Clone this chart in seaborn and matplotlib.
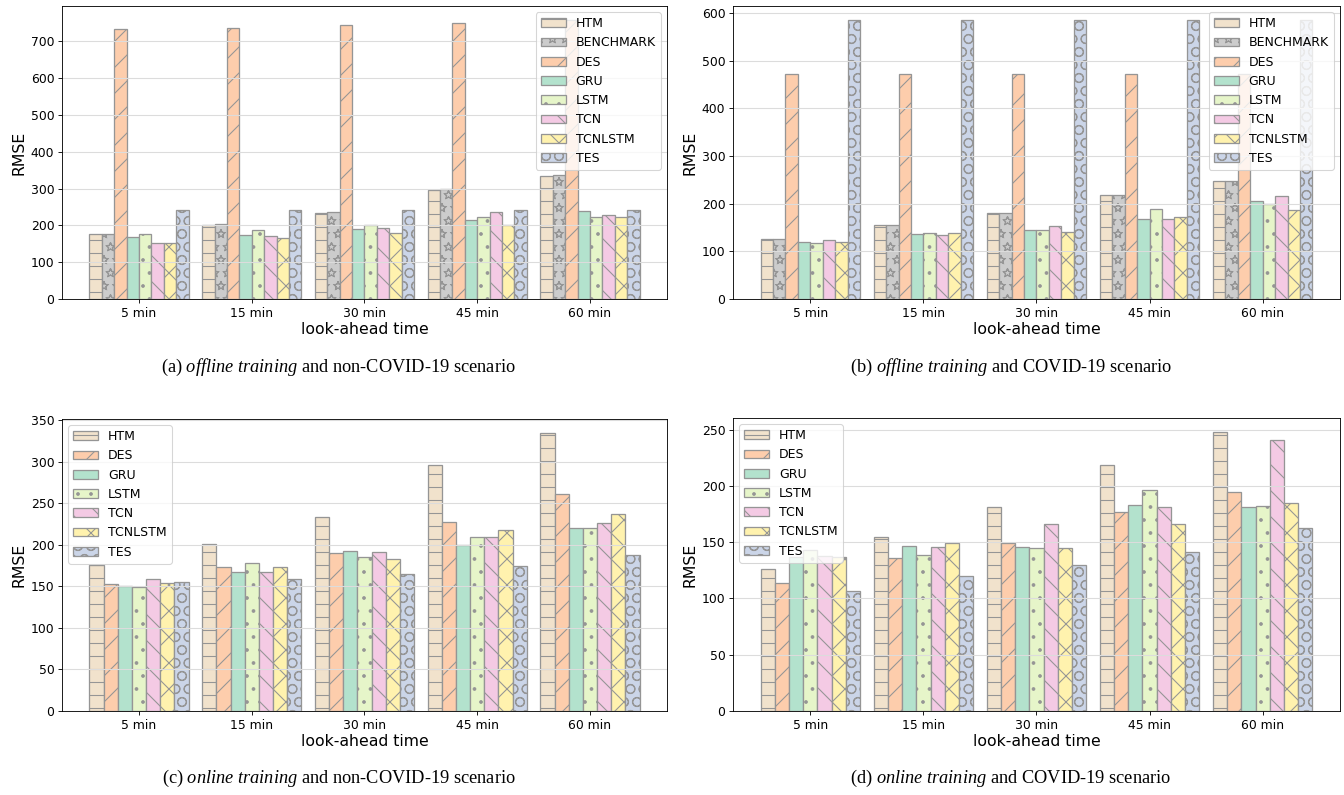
import matplotlib
matplotlib.use("Agg")
import matplotlib.pyplot as plt
import matplotlib.hatch as mhatch
from matplotlib.ticker import MultipleLocator
import seaborn as sns
import pandas as pd

# look-ahead horizons on the x axis
horizons = ["5 min", "15 min", "30 min", "45 min", "60 min"]

# (a) offline training, non-COVID-19
a_htm = [176, 201, 234, 296, 335]
a_benchmark = [176, 204, 237, 298, 337]
a_des = [733, 737, 745, 750, 758]
a_gru = [168, 173, 189, 215, 240]
a_lstm = [176, 188, 201, 222, 223]
a_tcn = [151, 170, 193, 236, 229]
a_tcnlstm = [151, 166, 179, 200, 224]
a_tes = [241, 241, 241, 241, 241]

# (b) offline training, COVID-19
b_htm = [126, 155, 181, 219, 248]
b_benchmark = [126, 155, 181, 219, 247]
b_des = [472, 472, 472, 472, 472]
b_gru = [120, 136, 144, 169, 205]
b_lstm = [117, 139, 145, 189, 200]
b_tcn = [123, 134, 154, 167, 217]
b_tcnlstm = [119, 138, 141, 172, 187]
b_tes = [586, 586, 586, 586, 586]

# (c) online training, non-COVID-19
c_htm = [176, 201, 234, 296, 335]
c_des = [153, 174, 190, 228, 261]
c_gru = [151, 167, 193, 200, 220]
c_lstm = [149, 178, 185, 209, 221]
c_tcn = [159, 167, 191, 210, 226]
c_tcnlstm = [154, 174, 183, 218, 237]
c_tes = [155, 159, 165, 175, 188]

# (d) online training, COVID-19
d_htm = [126, 155, 181, 219, 248]
d_des = [114, 136, 149, 177, 195]
d_gru = [137, 147, 146, 183, 181]
d_lstm = [143, 139, 145, 196, 182]
d_tcn = [138, 146, 166, 181, 241]
d_tcnlstm = [137, 149, 145, 166, 185]
d_tes = [107, 120, 130, 141, 163]

captions = [
    r"(a) $\mathit{offline\ training}$ and non-COVID-19 scenario",
    r"(b) $\mathit{offline\ training}$ and COVID-19 scenario",
    r"(c) $\mathit{online\ training}$ and non-COVID-19 scenario",
    r"(d) $\mathit{online\ training}$ and COVID-19 scenario",
]

# Pastel2 colours and hatches per model
styles = {
    "HTM": ("#f1e2cc", "-"),
    "BENCHMARK": ("#cccccc", "*"),
    "DES": ("#fdcdac", "/"),
    "GRU": ("#b3e2cd", ""),
    "LSTM": ("#e6f5c9", "."),
    "TCN": ("#f4cae4", "\\"),
    "TCNLSTM": ("#fff2ae", "x"),
    "TES": ("#cbd5e8", "O"),
}

panels = [
    {"HTM": a_htm, "BENCHMARK": a_benchmark, "DES": a_des, "GRU": a_gru,
     "LSTM": a_lstm, "TCN": a_tcn, "TCNLSTM": a_tcnlstm, "TES": a_tes},
    {"HTM": b_htm, "BENCHMARK": b_benchmark, "DES": b_des, "GRU": b_gru,
     "LSTM": b_lstm, "TCN": b_tcn, "TCNLSTM": b_tcnlstm, "TES": b_tes},
    {"HTM": c_htm, "DES": c_des, "GRU": c_gru, "LSTM": c_lstm,
     "TCN": c_tcn, "TCNLSTM": c_tcnlstm, "TES": c_tes},
    {"HTM": d_htm, "DES": d_des, "GRU": d_gru, "LSTM": d_lstm,
     "TCN": d_tcn, "TCNLSTM": d_tcnlstm, "TES": d_tes},
]


# star hatch drawn as outlines instead of filled stars
class HollowStars(mhatch.Stars):
    filled = False


mhatch._hatch_types[mhatch._hatch_types.index(mhatch.Stars)] = HollowStars

plt.rcParams["mathtext.fontset"] = "custom"
plt.rcParams["mathtext.rm"] = "Liberation Serif"
plt.rcParams["mathtext.it"] = "Liberation Serif:italic"
plt.rcParams["hatch.linewidth"] = 1.0

DPI = 78
fig = plt.figure(figsize=(1344 / DPI, 795 / DPI), dpi=DPI)

boxes = [
    [0.0461, 0.6239, 0.4502, 0.3686],
    [0.5454, 0.6239, 0.4516, 0.3686],
    [0.0461, 0.1057, 0.4502, 0.3673],
    [0.5454, 0.1057, 0.4516, 0.3686],
]
legend_loc = ["upper right", "upper right", "upper left", "upper left"]
ystep = [100, 100, 50, 50]
cap_pos = [(0.252, 0.538), (0.752, 0.538), (0.252, 0.021), (0.752, 0.021)]

for i, data in enumerate(panels):
    models = list(data.keys())
    df = pd.DataFrame([(h, m, v) for m in models for h, v in zip(horizons, data[m])],
                      columns=["horizon", "model", "rmse"])
    ax = fig.add_axes(boxes[i])
    sns.barplot(data=df, x="horizon", y="rmse", hue="model", hue_order=models,
                palette=[styles[m][0] for m in models], saturation=1, width=0.88,
                errorbar=None, edgecolor="#959595", linewidth=1.2, legend=False, ax=ax)
    for cont, m in zip(ax.containers, models):
        for bar in cont:
            bar.set_hatch(styles[m][1])
    ax.legend(ax.containers, models, loc=legend_loc[i], fontsize=11.5)
    ax.set_xlim(-0.684, 4.684)
    ax.yaxis.set_major_locator(MultipleLocator(ystep[i]))
    ax.yaxis.grid(True, color="#dcdcdc", linewidth=1.0)
    ax.set_xlabel("look-ahead time", fontsize=14.5, labelpad=2)
    ax.set_ylabel("RMSE", fontsize=14.5)
    ax.tick_params(labelsize=11.4)
    fig.text(cap_pos[i][0], cap_pos[i][1], captions[i], ha="center", va="center",
             family="Liberation Serif", fontsize=17)

fig.savefig("out.png", dpi=DPI)
